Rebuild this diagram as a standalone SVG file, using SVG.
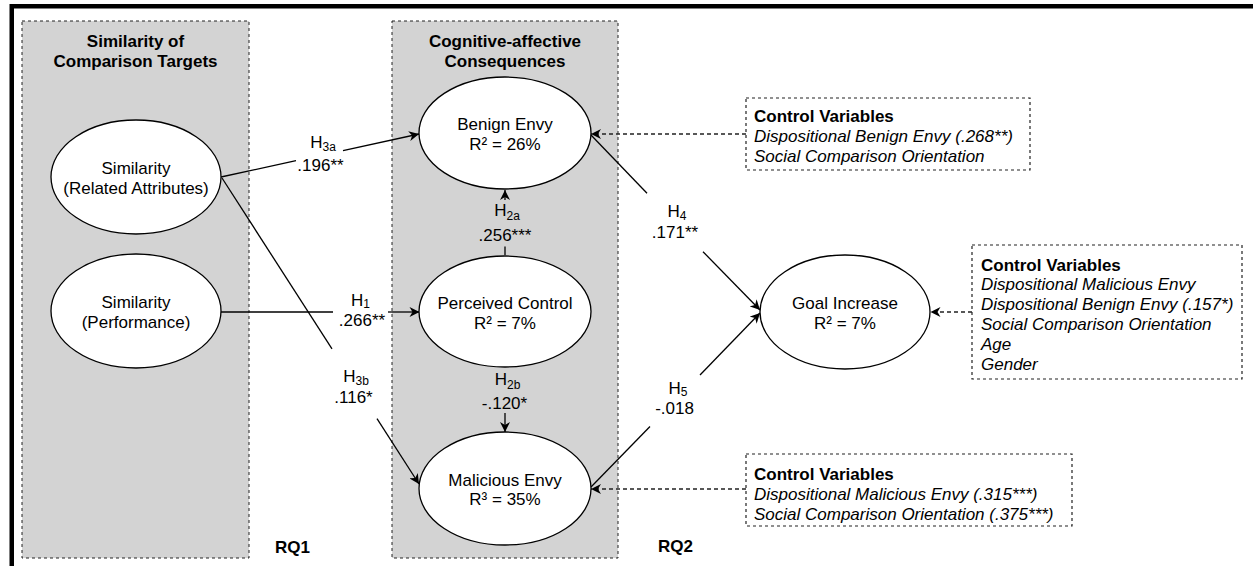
<svg xmlns="http://www.w3.org/2000/svg" width="1253" height="566" viewBox="0 0 1253 566">
<style>
text{font-family:"Liberation Sans",Arial,sans-serif;font-size:17px;fill:#000}
.b{font-weight:bold}
.i{font-style:italic}
.m{text-anchor:middle}
.sub{font-size:12px}
.panel{fill:#d3d3d3;stroke:#222;stroke-width:1;stroke-dasharray:3 3}
.box{fill:#fff;stroke:#222;stroke-width:1.2;stroke-dasharray:3 3}
.node{fill:#fff;stroke:#000;stroke-width:1.3}
.e{fill:none;stroke:#000;stroke-width:1.3}
.d{fill:none;stroke:#222;stroke-width:1.3;stroke-dasharray:4 3}
</style>
<defs>
<marker id="arr" viewBox="0 0 10 10" refX="10" refY="5" markerWidth="11" markerHeight="10" markerUnits="userSpaceOnUse" orient="auto">
<path d="M0,0 L10,5 L0,10 L3,5 z" fill="#000"/>
</marker>
</defs>
<rect x="11.75" y="6.25" width="1400" height="700" fill="none" stroke="#000" stroke-width="4.5"/>
<g id="panel-rq1">
<rect class="panel" x="22" y="21" width="227" height="537"/>
<text class="b m" x="135.5" y="46.5">Similarity of</text>
<text class="b m" x="135.5" y="66.5">Comparison Targets</text>
<text class="b" x="275" y="552.5">RQ1</text>
</g>
<g id="panel-rq2">
<rect class="panel" x="392" y="21" width="226" height="537"/>
<text class="b m" x="505" y="46.5">Cognitive-affective</text>
<text class="b m" x="505" y="66.5">Consequences</text>
<text class="b" x="658" y="552">RQ2</text>
</g>
<g id="connectors">
<line class="e" x1="221" y1="177" x2="296" y2="160.7"/>
<line class="e" x1="343" y1="150.7" x2="419" y2="134" marker-end="url(#arr)"/>
<line class="e" x1="222" y1="178" x2="332" y2="348.9"/>
<line class="e" x1="377" y1="418.7" x2="419" y2="484" marker-end="url(#arr)"/>
<line class="e" x1="221" y1="312" x2="333" y2="312"/>
<line class="e" x1="388" y1="312" x2="419.5" y2="312" marker-end="url(#arr)"/>
<line class="e" x1="505" y1="255" x2="505" y2="246.5"/>
<line class="e" x1="505" y1="200" x2="505" y2="190" marker-end="url(#arr)"/>
<line class="e" x1="505" y1="413" x2="505" y2="432" marker-end="url(#arr)"/>
<line class="e" x1="591" y1="135" x2="647" y2="193.3"/>
<line class="e" x1="703" y1="251.7" x2="760" y2="310" marker-end="url(#arr)"/>
<line class="e" x1="591" y1="487" x2="650" y2="426.5"/>
<line class="e" x1="700" y1="375" x2="760" y2="313" marker-end="url(#arr)"/>
<line class="d" x1="746" y1="134" x2="591" y2="134" marker-end="url(#arr)"/>
<line class="d" x1="972" y1="312" x2="930.5" y2="312" marker-end="url(#arr)"/>
<line class="d" x1="746" y1="489" x2="591" y2="489" marker-end="url(#arr)"/>
<text class="m" x="323" y="148.3">H<tspan class="sub" dy="3">3a</tspan></text>
<text class="m" x="320.5" y="170.7">.196**</text>
<text class="m" x="356" y="382.3">H<tspan class="sub" dy="3">3b</tspan></text>
<text class="m" x="353.5" y="402.7">.116*</text>
<text class="m" x="360.5" y="305.5">H<tspan class="sub" dy="2">1</tspan></text>
<text class="m" x="362" y="325.5">.266**</text>
<text class="m" x="507" y="216">H<tspan class="sub" dy="3.5">2a</tspan></text>
<text class="m" x="505" y="240.7">.256***</text>
<text class="m" x="507.5" y="385">H<tspan class="sub" dy="3.5">2b</tspan></text>
<text class="m" x="504.5" y="409.3">-.120*</text>
<text class="m" x="677" y="216.7">H<tspan class="sub" dy="3">4</tspan></text>
<text class="m" x="675" y="238.3">.171**</text>
<text class="m" x="678" y="394">H<tspan class="sub" dy="2">5</tspan></text>
<text class="m" x="674.5" y="413.8">-.018</text>
</g>
<g id="sim-related">
<ellipse class="node" cx="136" cy="177" rx="85" ry="57"/>
<text class="m" x="136" y="174">Similarity</text>
<text class="m" x="136" y="194">(Related Attributes)</text>
</g>
<g id="sim-performance">
<ellipse class="node" cx="136" cy="311" rx="85" ry="57"/>
<text class="m" x="136" y="308">Similarity</text>
<text class="m" x="136" y="328">(Performance)</text>
</g>
<g id="benign-envy">
<ellipse class="node" cx="505" cy="133" rx="86" ry="56"/>
<text class="m" x="505" y="130">Benign Envy</text>
<text class="m" x="505" y="150">R² = 26%</text>
</g>
<g id="perceived-control">
<ellipse class="node" cx="505" cy="311.5" rx="86" ry="55.5"/>
<text class="m" x="505" y="308.5">Perceived Control</text>
<text class="m" x="505" y="328.5">R² = 7%</text>
</g>
<g id="malicious-envy">
<ellipse class="node" cx="505" cy="488.5" rx="86" ry="56.5"/>
<text class="m" x="505" y="485.5">Malicious Envy</text>
<text class="m" x="505" y="505">R³ = 35%</text>
</g>
<g id="goal-increase">
<ellipse class="node" cx="845" cy="312" rx="85" ry="57"/>
<text class="m" x="845" y="309">Goal Increase</text>
<text class="m" x="845" y="329">R² = 7%</text>
</g>
<g id="controls-benign">
<rect class="box" x="746" y="98" width="284" height="72"/>
<text class="b" x="754" y="121.5">Control Variables</text>
<text class="i" x="754" y="141.5">Dispositional Benign Envy (.268**)</text>
<text class="i" x="754" y="161.5">Social Comparison Orientation</text>
</g>
<g id="controls-goal">
<rect class="box" x="972" y="245" width="270" height="134"/>
<text class="b" x="981" y="270.5">Control Variables</text>
<text class="i" x="981" y="290.3">Dispositional Malicious Envy</text>
<text class="i" x="981" y="310">Dispositional Benign Envy (.157*)</text>
<text class="i" x="981" y="330">Social Comparison Orientation</text>
<text class="i" x="981" y="350">Age</text>
<text class="i" x="981" y="370">Gender</text>
</g>
<g id="controls-malicious">
<rect class="box" x="746" y="454" width="326" height="72"/>
<text class="b" x="754" y="480">Control Variables</text>
<text class="i" x="754" y="500">Dispositional Malicious Envy (.315***)</text>
<text class="i" x="754" y="520">Social Comparison Orientation (.375***)</text>
</g>
</svg>
